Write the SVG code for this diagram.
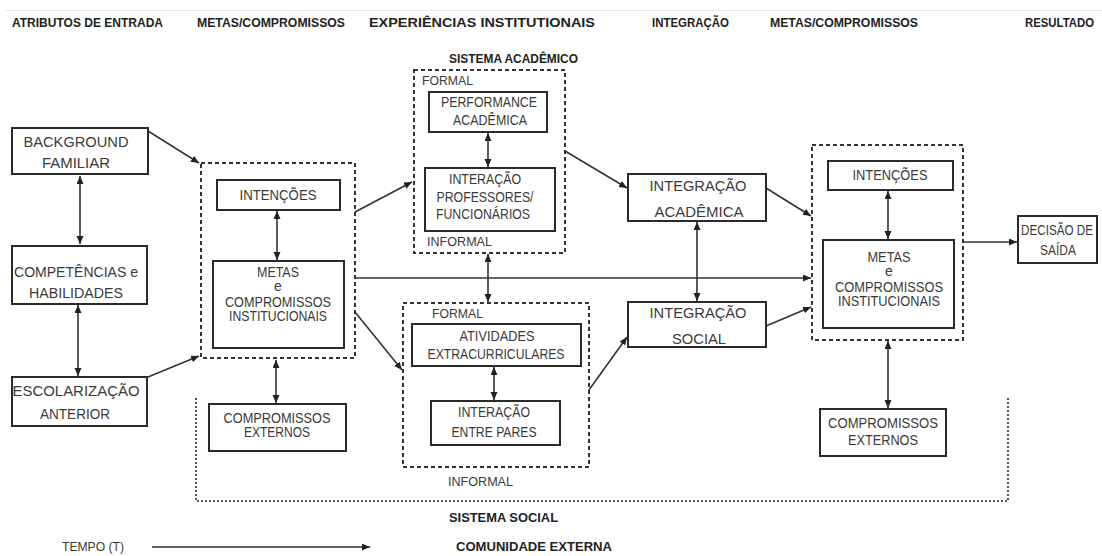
<svg xmlns="http://www.w3.org/2000/svg" width="1102" height="556" viewBox="0 0 1102 556">
<style>
.box{fill:#fff;stroke:#2a2a2a;stroke-width:2}
.dash{fill:none;stroke:#333;stroke-width:2;stroke-dasharray:4 3}
.dot{fill:none;stroke:#555;stroke-width:2;stroke-dasharray:2 2}
.ln{fill:none;stroke:#333;stroke-width:1.6}
.a{marker-end:url(#ah)}
.d{marker-start:url(#ah);marker-end:url(#ah)}
text{font-family:"Liberation Sans",Arial,sans-serif}
.t{fill:#3a3a3a;text-anchor:middle;font-size:14px}
.s{fill:#3a3a3a;font-size:13px}
.h{fill:#222;font-weight:bold;font-size:13px}
</style>
<defs>
<marker id="ah" markerUnits="userSpaceOnUse" markerWidth="9" markerHeight="8" refX="8" refY="3.5" orient="auto-start-reverse">
<path d="M0,0 L8,3.5 L0,7 z" fill="#222"/>
</marker>
</defs>
<rect width="1102" height="556" fill="#fff"/>
<line x1="5" y1="10.5" x2="1102" y2="10.5" stroke="#e8e8e8" stroke-width="1"/>

<g id="headers">
<text class="h" x="12" y="26.5" textLength="151" lengthAdjust="spacingAndGlyphs">ATRIBUTOS DE ENTRADA</text>
<text class="h" x="197" y="26.5" textLength="148" lengthAdjust="spacingAndGlyphs">METAS/COMPROMISSOS</text>
<text class="h" x="369" y="26.5" textLength="226" lengthAdjust="spacingAndGlyphs">EXPERIÊNCIAS INSTITUTIONAIS</text>
<text class="h" x="652" y="26.5" textLength="77" lengthAdjust="spacingAndGlyphs">INTEGRAÇÃO</text>
<text class="h" x="770" y="26.5" textLength="148" lengthAdjust="spacingAndGlyphs">METAS/COMPROMISSOS</text>
<text class="h" x="1025" y="26.5" textLength="69" lengthAdjust="spacingAndGlyphs">RESULTADO</text>
<text class="h" x="449" y="63" textLength="129" lengthAdjust="spacingAndGlyphs">SISTEMA ACADÊMICO</text>
<text class="h" x="449" y="522" textLength="109" lengthAdjust="spacingAndGlyphs">SISTEMA SOCIAL</text>
<text class="h" x="456" y="551" textLength="156" lengthAdjust="spacingAndGlyphs">COMUNIDADE EXTERNA</text>
<text class="s" x="62" y="551" font-size="12" textLength="62" lengthAdjust="spacingAndGlyphs">TEMPO (T)</text>
</g>

<g id="containers">
<rect class="dash" x="201" y="163" width="154" height="195"/>
<rect class="dash" x="414" y="70" width="151" height="183"/>
<rect class="dash" x="403" y="303" width="186" height="164"/>
<rect class="dash" x="812" y="145" width="151" height="195"/>
<path class="dot" d="M196,398 V501 H1008 V398"/>
<text class="s" x="422" y="85" textLength="51" lengthAdjust="spacingAndGlyphs">FORMAL</text>
<text class="s" x="427" y="246" textLength="65" lengthAdjust="spacingAndGlyphs">INFORMAL</text>
<text class="s" x="432" y="318" textLength="51" lengthAdjust="spacingAndGlyphs">FORMAL</text>
<text class="s" x="448" y="486" textLength="65" lengthAdjust="spacingAndGlyphs">INFORMAL</text>
</g>

<g id="connectors">
<line class="ln a" x1="148" y1="131" x2="199" y2="163"/>
<line class="ln a" x1="148" y1="377" x2="199" y2="356"/>
<line class="ln d" x1="80" y1="176" x2="80" y2="244"/>
<line class="ln d" x1="78" y1="305" x2="78" y2="376"/>
<line class="ln d" x1="277" y1="211" x2="277" y2="260"/>
<line class="ln d" x1="276" y1="360" x2="276" y2="403"/>
<line class="ln a" x1="355" y1="212" x2="412" y2="182"/>
<line class="ln a" x1="355" y1="278" x2="811" y2="278"/>
<line class="ln a" x1="355" y1="312" x2="402" y2="370"/>
<line class="ln d" x1="488" y1="133" x2="488" y2="167"/>
<line class="ln d" x1="488" y1="254" x2="488" y2="302"/>
<line class="ln d" x1="494" y1="367" x2="494" y2="400"/>
<line class="ln a" x1="565" y1="151" x2="627" y2="188"/>
<line class="ln a" x1="589" y1="390" x2="627" y2="337"/>
<line class="ln d" x1="697" y1="222" x2="697" y2="301"/>
<line class="ln a" x1="766" y1="188" x2="811" y2="216"/>
<line class="ln a" x1="766" y1="326" x2="811" y2="307"/>
<line class="ln d" x1="888" y1="191" x2="888" y2="239"/>
<line class="ln d" x1="888" y1="341" x2="888" y2="408"/>
<line class="ln a" x1="963" y1="242" x2="1017" y2="242"/>
<line class="ln a" x1="152" y1="547" x2="370" y2="547"/>
</g>

<g id="background">
<rect class="box" x="12" y="128" width="136" height="46"/>
<text class="t" x="76" y="147" font-size="15" textLength="105" lengthAdjust="spacingAndGlyphs">BACKGROUND</text>
<text class="t" x="76" y="168" font-size="15" textLength="68" lengthAdjust="spacingAndGlyphs">FAMILIAR</text>
</g>
<g id="competencias">
<rect class="box" x="12" y="246" width="135" height="58"/>
<text class="t" x="76" y="277" font-size="15" textLength="124" lengthAdjust="spacingAndGlyphs">COMPETÊNCIAS e</text>
<text class="t" x="76" y="298" font-size="15" textLength="94" lengthAdjust="spacingAndGlyphs">HABILIDADES</text>
</g>
<g id="escolarizacao">
<rect class="box" x="12" y="377" width="135" height="49"/>
<text class="t" x="76" y="396" font-size="15" textLength="127" lengthAdjust="spacingAndGlyphs">ESCOLARIZAÇÃO</text>
<text class="t" x="75" y="419" font-size="15" textLength="70" lengthAdjust="spacingAndGlyphs">ANTERIOR</text>
</g>
<g id="intencoes1">
<rect class="box" x="217" y="180" width="123" height="30"/>
<text class="t" x="278" y="200" textLength="77" lengthAdjust="spacingAndGlyphs">INTENÇÕES</text>
</g>
<g id="metas1">
<rect class="box" x="213" y="261" width="131" height="87"/>
<text class="t" x="278" y="277" textLength="42" lengthAdjust="spacingAndGlyphs">METAS</text>
<text class="t" x="278" y="291">e</text>
<text class="t" x="278" y="307" textLength="106" lengthAdjust="spacingAndGlyphs">COMPROMISSOS</text>
<text class="t" x="278" y="321" textLength="98" lengthAdjust="spacingAndGlyphs">INSTITUCIONAIS</text>
</g>
<g id="externos1">
<rect class="box" x="209" y="404" width="137" height="47"/>
<text class="t" x="277" y="423" textLength="107" lengthAdjust="spacingAndGlyphs">COMPROMISSOS</text>
<text class="t" x="277" y="437" textLength="66" lengthAdjust="spacingAndGlyphs">EXTERNOS</text>
</g>
<g id="performance">
<rect class="box" x="429" y="92" width="118" height="40"/>
<text class="t" x="489" y="107" textLength="96" lengthAdjust="spacingAndGlyphs">PERFORMANCE</text>
<text class="t" x="490" y="125" textLength="74" lengthAdjust="spacingAndGlyphs">ACADÊMICA</text>
</g>
<g id="interacao-prof">
<rect class="box" x="425" y="168" width="130" height="63"/>
<text class="t" x="485" y="184" textLength="72" lengthAdjust="spacingAndGlyphs">INTERAÇÃO</text>
<text class="t" x="485" y="202" textLength="97" lengthAdjust="spacingAndGlyphs">PROFESSORES/</text>
<text class="t" x="483" y="219" textLength="94" lengthAdjust="spacingAndGlyphs">FUNCIONÁRIOS</text>
</g>
<g id="atividades">
<rect class="box" x="412" y="324" width="169" height="42"/>
<text class="t" x="497" y="341" textLength="75" lengthAdjust="spacingAndGlyphs">ATIVIDADES</text>
<text class="t" x="496" y="359" textLength="137" lengthAdjust="spacingAndGlyphs">EXTRACURRICULARES</text>
</g>
<g id="interacao-pares">
<rect class="box" x="431" y="401" width="129" height="44"/>
<text class="t" x="494" y="417" textLength="72" lengthAdjust="spacingAndGlyphs">INTERAÇÃO</text>
<text class="t" x="494" y="437" textLength="85" lengthAdjust="spacingAndGlyphs">ENTRE PARES</text>
</g>
<g id="integracao-academica">
<rect class="box" x="628" y="174" width="138" height="47"/>
<text class="t" x="698" y="191" font-size="16" textLength="97" lengthAdjust="spacingAndGlyphs">INTEGRAÇÃO</text>
<text class="t" x="699" y="217" font-size="16" textLength="89" lengthAdjust="spacingAndGlyphs">ACADÊMICA</text>
</g>
<g id="integracao-social">
<rect class="box" x="628" y="302" width="138" height="45"/>
<text class="t" x="698" y="318" font-size="16" textLength="97" lengthAdjust="spacingAndGlyphs">INTEGRAÇÃO</text>
<text class="t" x="699" y="344" font-size="16" textLength="54" lengthAdjust="spacingAndGlyphs">SOCIAL</text>
</g>
<g id="intencoes2">
<rect class="box" x="828" y="161" width="125" height="29"/>
<text class="t" x="890" y="180" textLength="75" lengthAdjust="spacingAndGlyphs">INTENÇÕES</text>
</g>
<g id="metas2">
<rect class="box" x="823" y="240" width="131" height="88"/>
<text class="t" x="889" y="262" textLength="43" lengthAdjust="spacingAndGlyphs">METAS</text>
<text class="t" x="889" y="276">e</text>
<text class="t" x="889" y="292" textLength="108" lengthAdjust="spacingAndGlyphs">COMPROMISSOS</text>
<text class="t" x="889" y="306" textLength="102" lengthAdjust="spacingAndGlyphs">INSTITUCIONAIS</text>
</g>
<g id="externos2">
<rect class="box" x="820" y="409" width="126" height="47"/>
<text class="t" x="883" y="428" textLength="110" lengthAdjust="spacingAndGlyphs">COMPROMISSOS</text>
<text class="t" x="883" y="445" textLength="70" lengthAdjust="spacingAndGlyphs">EXTERNOS</text>
</g>
<g id="decisao">
<rect class="box" x="1018" y="216" width="79" height="47"/>
<text class="t" x="1057" y="235" font-size="13.5" textLength="72" lengthAdjust="spacingAndGlyphs">DECISÃO DE</text>
<text class="t" x="1058" y="255" textLength="36" lengthAdjust="spacingAndGlyphs">SAÍDA</text>
</g>
</svg>
